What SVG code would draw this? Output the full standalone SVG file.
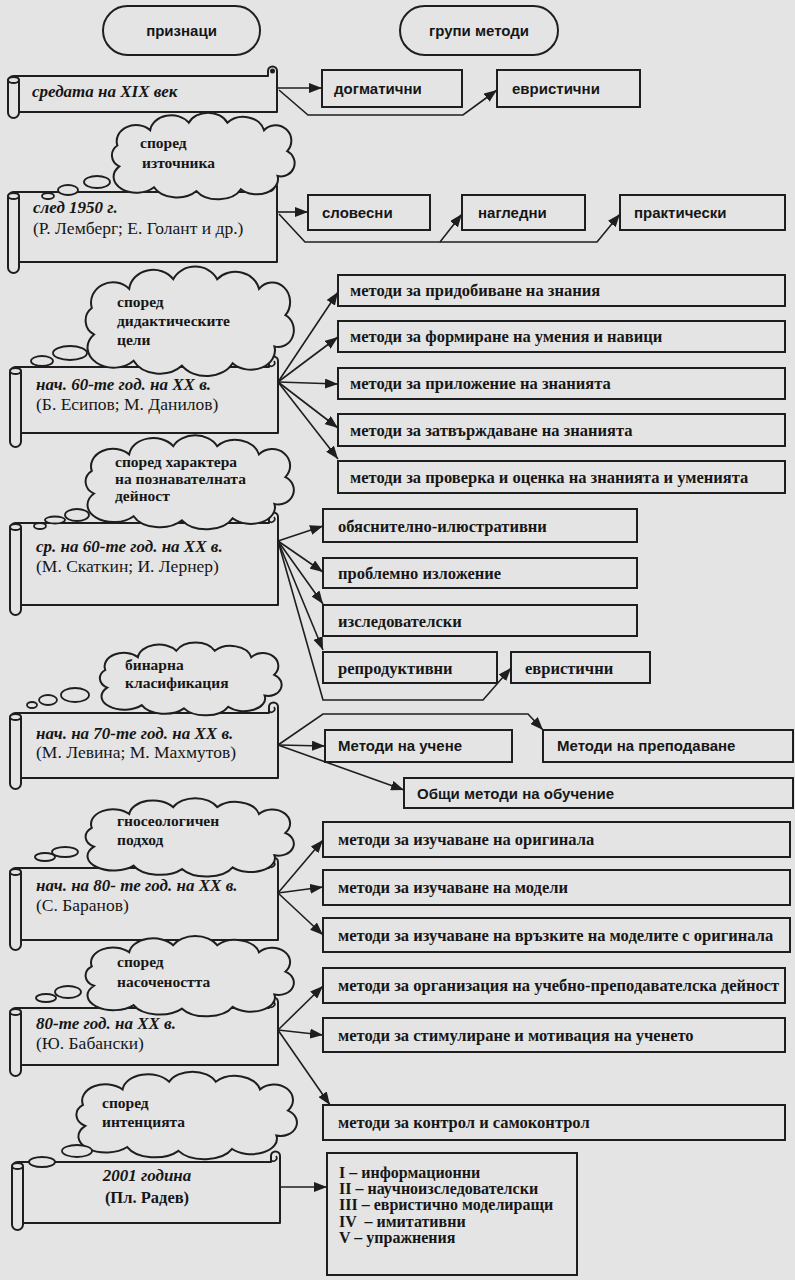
<svg xmlns="http://www.w3.org/2000/svg" xmlns:xlink="http://www.w3.org/1999/xlink" width="795" height="1280" viewBox="0 0 795 1280">
<defs>
<style>
.bg{fill:#e4e4e4}
.ln{fill:none;stroke:#1e1e1e;stroke-width:1.6;stroke-linejoin:miter}
.bx{fill:#e4e4e4;stroke:#1e1e1e;stroke-width:2}
.sc{fill:#e4e4e4;stroke:#1e1e1e;stroke-width:2;stroke-linejoin:round}
.cl{fill:#e4e4e4;stroke:#1e1e1e;stroke-width:2;vector-effect:non-scaling-stroke}
.bb{fill:#e4e4e4;stroke:#1e1e1e;stroke-width:1.8}
.t{font-family:"Liberation Serif","DejaVu Serif",serif;font-weight:bold;font-size:16.5px;fill:#161616}
.ts{font-family:"Liberation Sans",Arial,sans-serif;font-weight:bold;font-size:15px;fill:#161616}
.ti{font-family:"Liberation Serif","DejaVu Serif",serif;font-style:italic;font-weight:bold;font-size:17px;fill:#161616}
.tr{font-family:"Liberation Serif","DejaVu Serif",serif;font-size:17.5px;fill:#161616}
.tc{font-family:"Liberation Serif","DejaVu Serif",serif;font-weight:bold;font-size:15.5px;fill:#161616}
.tl{font-family:"Liberation Serif","DejaVu Serif",serif;font-weight:bold;font-size:16px;fill:#161616;white-space:pre}
</style>
<marker id="ah" markerUnits="userSpaceOnUse" markerWidth="14" markerHeight="10" refX="13" refY="5" orient="auto">
<path d="M0,0 L13,5 L0,10 z" fill="#1e1e1e"/>
</marker>
<path id="cloud" class="cl" d="M20,52 A14,13 0 0 1 18,30 A20,17 0 0 1 52,14 A22,18 0 0 1 92,6 A22,18 0 0 1 132,6 A22,18 0 0 1 170,14 A16,16 0 0 1 194,36 A14,14 0 0 1 184,62 A22,16 0 0 1 146,76 A26,18 0 0 1 100,78 A26,18 0 0 1 56,74 A20,14 0 0 1 20,52 Z"/>
</defs>
<rect class="bg" x="0" y="0" width="795" height="1280"/>

<g id="header-priznaci">
<rect class="bx" x="103" y="6" width="157" height="49" rx="24.5"/>
<text class="ts" x="181.5" y="36" text-anchor="middle" font-size="16">признаци</text>
</g>
<g id="header-grupi">
<rect class="bx" x="400" y="6" width="158" height="49" rx="24.5"/>
<text class="ts" x="479" y="36" text-anchor="middle" font-size="16">групи методи</text>
</g>

<g id="scroll1">
<path class="sc" d="M13,76 H268 V71 A4.5,4.5 0 0 1 277,71 V112 H19"/>
<rect class="sc" x="8" y="76" width="11" height="42" rx="5.5"/>
<ellipse class="sc" cx="13.5" cy="80" rx="5.5" ry="3"/>
<circle cx="272.5" cy="71" r="2.5" fill="#1e1e1e"/>
<text class="ti" x="32" y="97" font-size="17.5">средата на XIX век</text>
</g>
<g id="scroll2">
<path class="sc" d="M13,192 H268 V186 A4.5,4.5 0 0 1 277,186 V262 H19"/>
<rect class="sc" x="8" y="192" width="11" height="81" rx="5.5"/>
<ellipse class="sc" cx="13.5" cy="196" rx="5.5" ry="3"/>
<path class="ln" d="M268,190 A3,3 0 0 0 273,186"/>
<text class="ti" x="33" y="213">след 1950 г.</text>
<text class="tr" x="33" y="234">(Р. Лемберг; Е. Голант и др.)</text>
</g>
<g id="scroll3">
<path class="sc" d="M15,367 H269 V361 A4.5,4.5 0 0 1 278,361 V433 H21"/>
<rect class="sc" x="10" y="367" width="11" height="80" rx="5.5"/>
<ellipse class="sc" cx="15.5" cy="371" rx="5.5" ry="3"/>
<path class="ln" d="M269,365 A3,3 0 0 0 274,361"/>
<text class="ti" x="36" y="390">нач. 60-те год. на XX в.</text>
<text class="tr" x="36" y="410">(Б. Есипов; М. Данилов)</text>
</g>
<g id="scroll4">
<path class="sc" d="M15,523 H269 V517 A4.5,4.5 0 0 1 278,517 V605 H21"/>
<rect class="sc" x="10" y="523" width="11" height="92" rx="5.5"/>
<ellipse class="sc" cx="15.5" cy="527" rx="5.5" ry="3"/>
<path class="ln" d="M269,521 A3,3 0 0 0 274,517"/>
<text class="ti" x="36" y="552">ср. на 60-те год. на XX в.</text>
<text class="tr" x="36" y="572">(М. Скаткин; И. Лернер)</text>
</g>
<g id="scroll5">
<path class="sc" d="M15,713 H269 V707 A4.5,4.5 0 0 1 278,707 V778 H21"/>
<rect class="sc" x="10" y="713" width="11" height="76" rx="5.5"/>
<ellipse class="sc" cx="15.5" cy="717" rx="5.5" ry="3"/>
<path class="ln" d="M269,711 A3,3 0 0 0 274,707"/>
<text class="ti" x="36" y="739">нач. на 70-те год. на XX в.</text>
<text class="tr" x="36" y="758">(М. Левина; М. Махмутов)</text>
</g>
<g id="scroll6">
<path class="sc" d="M15,868 H269 V862 A4.5,4.5 0 0 1 278,862 V940 H21"/>
<rect class="sc" x="10" y="868" width="11" height="82" rx="5.5"/>
<ellipse class="sc" cx="15.5" cy="872" rx="5.5" ry="3"/>
<path class="ln" d="M269,866 A3,3 0 0 0 274,862"/>
<text class="ti" x="36" y="891">нач. на 80- те год. на XX в.</text>
<text class="tr" x="36" y="911">(С. Баранов)</text>
</g>
<g id="scroll7">
<path class="sc" d="M15,1008 H269 V1002 A4.5,4.5 0 0 1 278,1002 V1065 H21"/>
<rect class="sc" x="10" y="1008" width="11" height="68" rx="5.5"/>
<ellipse class="sc" cx="15.5" cy="1012" rx="5.5" ry="3"/>
<path class="ln" d="M269,1006 A3,3 0 0 0 274,1002"/>
<text class="ti" x="36" y="1029">80-те год. на XX в.</text>
<text class="tr" x="36" y="1049">(Ю. Бабански)</text>
</g>
<g id="scroll8">
<path class="sc" d="M17,1162 H271 V1156 A4.5,4.5 0 0 1 280,1156 V1223 H23"/>
<rect class="sc" x="12" y="1162" width="11" height="68" rx="5.5"/>
<ellipse class="sc" cx="17.5" cy="1166" rx="5.5" ry="3"/>
<path class="ln" d="M271,1160 A3,3 0 0 0 276,1156"/>
<text class="ti" x="147" y="1181" text-anchor="middle">2001 година</text>
<text class="t" x="147" y="1203" text-anchor="middle" font-size="17">(Пл. Радев)</text>
</g>

<g id="cloud1">
<use xlink:href="#cloud" href="#cloud" transform="translate(100,117) scale(0.965,0.95)"/>
<ellipse class="bb" cx="97" cy="182" rx="13" ry="6"/>
<ellipse class="bb" cx="68" cy="190" rx="10" ry="5"/>
<ellipse class="bb" cx="48" cy="196" rx="6" ry="3"/>
<text class="tc" x="140" y="148">според</text>
<text class="tc" x="142" y="168">източника</text>
</g>
<g id="cloud2">
<use xlink:href="#cloud" href="#cloud" transform="translate(72,272) scale(1.1,1.2)"/>
<ellipse class="bb" cx="70" cy="353" rx="17" ry="7"/>
<ellipse class="bb" cx="42" cy="361" rx="11" ry="5"/>
<text class="tc" x="117" y="307">според</text>
<text class="tc" x="117" y="326">дидактическите</text>
<text class="tc" x="117" y="345">цели</text>
</g>
<g id="cloud3">
<use xlink:href="#cloud" href="#cloud" transform="translate(72,440) scale(1.1,1.03)"/>
<ellipse class="bb" cx="77" cy="515" rx="12" ry="6"/>
<ellipse class="bb" cx="55" cy="520" rx="10" ry="3.5"/>
<ellipse class="bb" cx="40" cy="526" rx="6" ry="3"/>
<text class="tc" x="115" y="467">според характера</text>
<text class="tc" x="115" y="484">на познавателната</text>
<text class="tc" x="115" y="501">дейност</text>
</g>
<g id="cloud4">
<use xlink:href="#cloud" href="#cloud" transform="translate(88,646) scale(0.96,0.8)"/>
<ellipse class="bb" cx="75" cy="695" rx="14" ry="7"/>
<ellipse class="bb" cx="48" cy="700" rx="9" ry="5"/>
<ellipse class="bb" cx="32" cy="705" rx="5" ry="3"/>
<text class="tc" x="125" y="670">бинарна</text>
<text class="tc" x="125" y="688">класификация</text>
</g>
<g id="cloud5">
<use xlink:href="#cloud" href="#cloud" transform="translate(72,802) scale(1.1,0.86)"/>
<ellipse class="bb" cx="65" cy="852" rx="13" ry="5"/>
<ellipse class="bb" cx="45" cy="857" rx="10" ry="4"/>
<text class="tc" x="117" y="826">гносеологичен</text>
<text class="tc" x="117" y="845">подход</text>
</g>
<g id="cloud6">
<use xlink:href="#cloud" href="#cloud" transform="translate(72,940) scale(1.1,0.88)"/>
<ellipse class="bb" cx="68" cy="992" rx="13" ry="6"/>
<ellipse class="bb" cx="46" cy="998" rx="10" ry="4"/>
<text class="tc" x="117" y="967">според</text>
<text class="tc" x="117" y="987">насочеността</text>
</g>
<g id="cloud7">
<use xlink:href="#cloud" href="#cloud" transform="translate(62,1076) scale(1.165,0.96)"/>
<ellipse class="bb" cx="77" cy="1151" rx="15" ry="6"/>
<ellipse class="bb" cx="42" cy="1162" rx="13" ry="5"/>
<text class="tc" x="102" y="1108">според</text>
<text class="tc" x="102" y="1127">интенцията</text>
</g>

<g id="b-dogm"><rect class="bx" x="322" y="70" width="140" height="37"/><text class="ts" x="334" y="94">догматични</text></g>
<g id="b-evr1"><rect class="bx" x="497" y="70" width="143" height="37"/><text class="ts" x="512" y="94">евристични</text></g>
<g id="b-slov"><rect class="bx" x="308" y="195" width="122" height="35"/><text class="ts" x="322" y="218">словесни</text></g>
<g id="b-nagl"><rect class="bx" x="462" y="195" width="123" height="35"/><text class="ts" x="478" y="218">нагледни</text></g>
<g id="b-prak"><rect class="bx" x="620" y="195" width="165" height="35"/><text class="ts" x="634" y="218">практически</text></g>

<g id="b-r3-1"><rect class="bx" x="338" y="275" width="447" height="31"/><text class="t" x="350" y="296">методи за придобиване на знания</text></g>
<g id="b-r3-2"><rect class="bx" x="338" y="321" width="447" height="31"/><text class="t" x="350" y="342">методи за формиране на умения и навици</text></g>
<g id="b-r3-3"><rect class="bx" x="338" y="368" width="447" height="31"/><text class="t" x="350" y="389">методи за приложение на знанията</text></g>
<g id="b-r3-4"><rect class="bx" x="338" y="414" width="447" height="32"/><text class="t" x="350" y="436">методи за затвърждаване на знанията</text></g>
<g id="b-r3-5"><rect class="bx" x="338" y="461" width="447" height="32"/><text class="t" x="350" y="483">методи за проверка и оценка на знанията и уменията</text></g>

<g id="b-r4-1"><rect class="bx" x="323" y="509" width="314" height="33"/><text class="t" x="338" y="532">обяснително-илюстративни</text></g>
<g id="b-r4-2"><rect class="bx" x="323" y="558" width="314" height="30"/><text class="t" x="338" y="579">проблемно изложение</text></g>
<g id="b-r4-3"><rect class="bx" x="323" y="605" width="314" height="31"/><text class="t" x="338" y="627">изследователски</text></g>
<g id="b-r4-4"><rect class="bx" x="323" y="652" width="174" height="31"/><text class="t" x="338" y="674">репродуктивни</text></g>
<g id="b-r4-5"><rect class="bx" x="511" y="652" width="139" height="31"/><text class="t" x="525" y="674">евристични</text></g>

<g id="b-r5-1"><rect class="bx" x="325" y="730" width="187" height="32"/><text class="ts" x="338" y="751">Методи на учене</text></g>
<g id="b-r5-2"><rect class="bx" x="543" y="730" width="250" height="32"/><text class="ts" x="557" y="751">Методи на преподаване</text></g>
<g id="b-r5-3"><rect class="bx" x="404" y="778" width="389" height="30"/><text class="ts" x="417" y="799">Общи методи на обучение</text></g>

<g id="b-r6-1"><rect class="bx" x="323" y="822" width="467" height="35"/><text class="t" x="338" y="845">методи за изучаване на оригинала</text></g>
<g id="b-r6-2"><rect class="bx" x="323" y="870" width="467" height="35"/><text class="t" x="338" y="893">методи за изучаване на модели</text></g>
<g id="b-r6-3"><rect class="bx" x="323" y="918" width="467" height="34"/><text class="t" x="338" y="941">методи за изучаване на връзките на моделите с оригинала</text></g>

<g id="b-r7-1"><rect class="bx" x="323" y="968" width="462" height="35"/><text class="t" x="338" y="991">методи за организация на учебно-преподавателска дейност</text></g>
<g id="b-r7-2"><rect class="bx" x="323" y="1018" width="462" height="34"/><text class="t" x="338" y="1041">методи за стимулиране и мотивация на ученето</text></g>
<g id="b-r7-3"><rect class="bx" x="323" y="1105" width="462" height="35"/><text class="t" x="338" y="1128">методи за контрол и самоконтрол</text></g>

<g id="b-list">
<rect class="bx" x="327" y="1153" width="250" height="122"/>
<text class="tl" x="339" y="1178">I – информационни</text>
<text class="tl" x="339" y="1194">II – научноизследователски</text>
<text class="tl" x="339" y="1210">III – евристично моделиращи</text>
<text class="tl" x="339" y="1227">IV  – имитативни</text>
<text class="tl" x="339" y="1243">V – упражнения</text>
</g>

<g id="connectors" class="ln" marker-end="url(#ah)">
<path d="M277,88 L322,88"/>
<path d="M279,90 L308,115 L463,115 L497,90"/>
<path d="M277,212 L308,212"/>
<path d="M279,214 L305,242 L440,242 L462,214"/>
<path d="M440,242 L597,242 L620,214"/>
<path d="M278,382 L338,292"/>
<path d="M278,382 L338,337"/>
<path d="M278,382 L338,384"/>
<path d="M278,382 L338,428"/>
<path d="M278,382 L338,459"/>
<path d="M278,541 L323,526"/>
<path d="M278,541 L323,572"/>
<path d="M278,541 L323,604"/>
<path d="M278,541 L323,650"/>
<path d="M278,541 L323,700 L483,700 L511,668"/>
<path d="M278,745 L325,746"/>
<path d="M278,745 L323,714 L528,714 L543,730"/>
<path d="M278,745 L404,790"/>
<path d="M278,893 L323,840"/>
<path d="M278,893 L323,887"/>
<path d="M278,893 L323,935"/>
<path d="M278,1030 L323,986"/>
<path d="M278,1030 L323,1035"/>
<path d="M278,1030 L330,1105"/>
<path d="M280,1187 L327,1187"/>
</g>
</svg>
